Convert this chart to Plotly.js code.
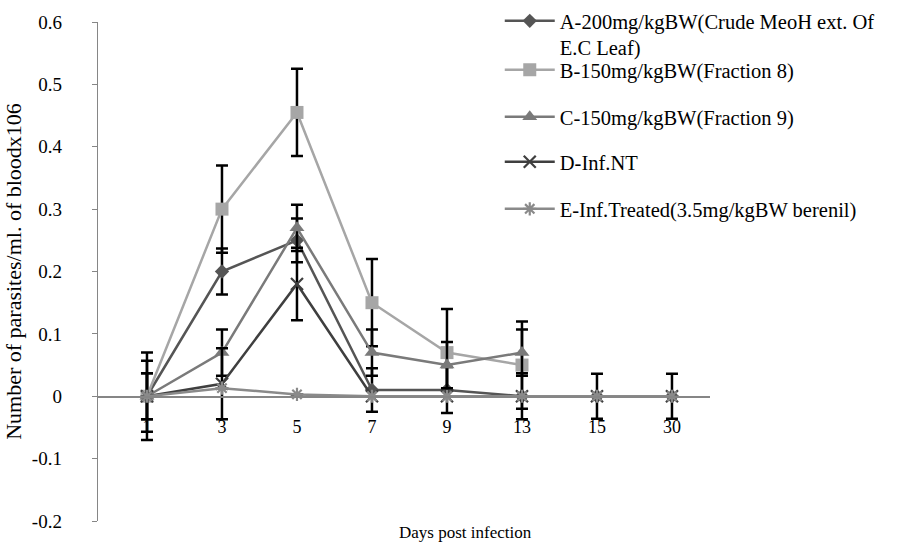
<!DOCTYPE html>
<html><head><meta charset="utf-8">
<script src="https://cdn.plot.ly/plotly-3.0.1.min.js"></script>
<style>html,body{margin:0;padding:0;background:#fff}#chart{width:907px;height:543px}</style>
</head><body><div id="chart"></div>
<script>
const days = ['1', '3', '5', '7', '9', '13', '15', '30'];
const namesList = [
  'A-200mg/kgBW(Crude MeoH ext. Of<br>E.C Leaf)',
  'B-150mg/kgBW(Fraction 8)',
  'C-150mg/kgBW(Fraction 9)',
  'D-Inf.NT',
  'E-Inf.Treated(3.5mg/kgBW berenil)'
];
const valuesA = [0, 0.2, 0.25, 0.01, 0.01, 0, 0, 0];
const errA    = [0.037, 0.037, 0.035, 0.035, 0.037, 0, 0, 0];
const valuesB = [0, 0.3, 0.455, 0.15, 0.07, 0.05];
const errB    = [0.07, 0.07, 0.07, 0.07, 0.07, 0.07];
const valuesC = [0, 0.07, 0.27, 0.07, 0.05, 0.07];
const errC    = [0.037, 0.037, 0.037, 0.037, 0.037, 0.037];
const valuesD = [0, 0.02, 0.18, 0, 0, 0, 0, 0];
const errD    = [0.057, 0.057, 0.058, 0, 0, 0.037, 0.036, 0.036];
const valuesE = [0, 0.013, 0.003, 0, 0, 0, 0, 0];
const errE    = [0, 0, 0, 0, 0, 0, 0, 0];
const yTickVals = [-0.2, -0.1, 0, 0.1, 0.2, 0.3, 0.4, 0.5, 0.6];
const yTickText = ['-0.2', '-0.1', '0', '0.1', '0.2', '0.3', '0.4', '0.5', '0.6'];

const FONT = 'Liberation Serif';
const styles = [
  {color: '#555555', symbol: 'diamond', size: 11, mline: 0},
  {color: '#a6a6a6', symbol: 'square', size: 13, mline: 0},
  {color: '#7a7a7a', symbol: 'triangle-up', size: 13, mline: 0},
  {color: '#3f3f3f', symbol: 'x-thin-open', size: 12, mline: 2.2},
  {color: '#8a8a8a', symbol: 'asterisk-open', size: 11, mline: 2.2}
];
const allValues = [valuesA, valuesB, valuesC, valuesD, valuesE];
const allErr = [errA, errB, errC, errD, errE];
const legendIds = ['legend', 'legend2', 'legend3', 'legend4', 'legend5'];

const traces = allValues.map((vals, i) => ({
  type: 'scatter',
  mode: 'lines+markers',
  name: namesList[i],
  x: days.slice(0, vals.length),
  y: vals,
  legend: legendIds[i],
  line: {color: styles[i].color, width: 2.5},
  marker: {color: styles[i].color, symbol: styles[i].symbol, size: styles[i].size,
           line: {color: styles[i].color, width: styles[i].mline}},
  error_y: {type: 'data', array: allErr[i], visible: true, color: '#000000', thickness: 2.5, width: 6}
}));

const legendTops = [1, 50, 97, 142, 189];
const layout = {
  width: 907, height: 543,
  margin: {l: 98, r: 197, t: 22, b: 22, autoexpand: false},
  paper_bgcolor: '#ffffff', plot_bgcolor: '#ffffff',
  font: {family: FONT, size: 19, color: '#000000'},
  showlegend: true,
  xaxis: {
    type: 'category', categoryorder: 'array', categoryarray: days,
    range: [-0.653, 7.507],
    anchor: 'free', position: 0.25,
    showline: true, linecolor: '#868686', linewidth: 1.3,
    showgrid: false, zeroline: false, ticks: '',
    ticklabelstandoff: 14,
    tickfont: {family: FONT, size: 18, color: '#000'}
  },
  yaxis: {
    range: [-0.2, 0.6], tickvals: yTickVals, ticktext: yTickText,
    showline: true, linecolor: '#868686', linewidth: 1.3,
    ticks: 'outside', ticklen: 5, tickcolor: '#868686',
    ticklabelstandoff: 26,
    showgrid: false, zeroline: false,
    tickfont: {family: FONT, size: 19, color: '#000'},
    title: {text: 'Number of parasites/ml. of bloodx106', font: {family: FONT, size: 22}, standoff: 4}
  },
  annotations: [{
    text: 'Days post infection', xref: 'paper', yref: 'paper',
    x: 0.6, y: -0.024, xanchor: 'center', yanchor: 'middle', showarrow: false,
    font: {family: FONT, size: 17, color: '#000'}
  }]
};
legendIds.forEach((id, i) => {
  layout[id] = {
    xref: 'container', yref: 'container',
    x: 0.551, y: 1 - legendTops[i] / 543, xanchor: 'left', yanchor: 'top',
    bgcolor: 'rgba(0,0,0,0)', borderwidth: 0,
    font: {family: FONT, size: 20.5, color: '#000'},
    valign: 'top', itemwidth: 50
  };
});
Plotly.newPlot('chart', traces, layout, {displayModeBar: false, staticPlot: true});
</script>
</body></html>
